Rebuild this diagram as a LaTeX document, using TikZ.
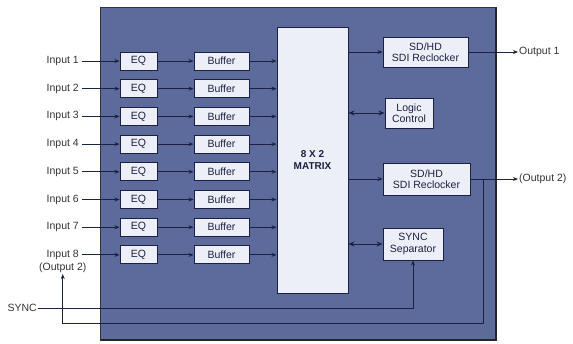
\documentclass[tikz,border=0pt]{standalone}
\usepackage{fontspec}
\setmainfont{Liberation Sans}
\usetikzlibrary{arrows.meta,positioning}
\definecolor{panelblue}{HTML}{5C6B9C}
\definecolor{boxfill}{HTML}{ECEEF8}
\definecolor{wire}{HTML}{1B2140}
\begin{document}
\begin{tikzpicture}[x=1pt,y=-1pt,
    blk/.style={draw=wire,fill=boxfill,line width=1pt,inner sep=0pt,align=center,text=wire,font=\fontsize{10.5}{11.5}\selectfont},
    lbl/.style={font=\fontsize{10.5}{11.5}\selectfont,text=black!80,inner sep=1pt},
    sig/.style={draw=wire,line width=1pt,arrows={-Stealth[length=5pt,width=4pt]}},
    bisig/.style={draw=wire,line width=1pt,arrows={Stealth[length=6pt,width=5pt]-Stealth[length=6pt,width=5pt]}}]
    \useasboundingbox (0,0) rectangle (573,343);
    \fill[panelblue,draw=black!80] (100,7) rectangle (496,340);
    \draw[black!85,line width=2pt] (101,340) -- (496,340) -- (496,8);
    % switching core and output side
    \node[blk,minimum width=71,minimum height=266,font=\bfseries\fontsize{10}{11.5}\selectfont] (mtx) at (312.5,160) {8 X 2\\MATRIX};
    \node[blk,minimum width=85,minimum height=30] (reclk1) at (425.5,52) {SD/HD\\SDI Reclocker};
    \node[blk,minimum width=48,minimum height=30] (logic) at (409,113) {Logic\\Control};
    \node[blk,minimum width=87,minimum height=32] (reclk2) at (426.5,179) {SD/HD\\SDI Reclocker};
    \node[blk,minimum width=60,minimum height=32] (syncsep) at (413,244) {SYNC\\Separator};
    % input rows
    \foreach \i in {1,...,8} {
        \pgfmathsetmacro\yy{61+27.7*(\i-1)}
        \node[blk,minimum width=37,minimum height=18] (eq\i) at (138.5,\yy) {EQ};
        \node[blk,minimum width=55,minimum height=18] (buf\i) at (221.5,\yy) {Buffer};
        \node[lbl,anchor=east] (in\i) at (80,\yy) {Input \i};
        \draw[sig,shorten <=2pt] (in\i) -- (eq\i);
        \draw[sig] (eq\i) -- (buf\i);
        \draw[sig] (buf\i) -- (buf\i -| mtx.west);
    }
    \node[lbl,below=1pt of in8] (fb) {(Output 2)};
    \draw[sig] (mtx.east |- reclk1) -- (reclk1);
    \draw[bisig] (mtx.east |- logic) -- (logic.west);
    \draw[sig] (mtx.east |- reclk2) -- (reclk2);
    \draw[bisig] (mtx.east |- syncsep) -- (syncsep.west);
    % outputs
    \node[lbl,anchor=west] (out1) at (518,52) {Output 1};
    \node[lbl,anchor=west] (out2) at (518,179) {(Output 2)};
    \draw[sig] (reclk1) -- (out1);
    \draw[sig] (reclk2) -- (out2);
    % loop back and sync
    \coordinate (tap) at (483,179);
    \coordinate (fbturn) at (483,323);
    \draw[sig] (tap) -- (fbturn) -| (fb.south);
    \node[lbl,anchor=east] (sync) at (38,308) {SYNC};
    \draw[sig] (sync) -| (syncsep.south);
\end{tikzpicture}
\end{document}
